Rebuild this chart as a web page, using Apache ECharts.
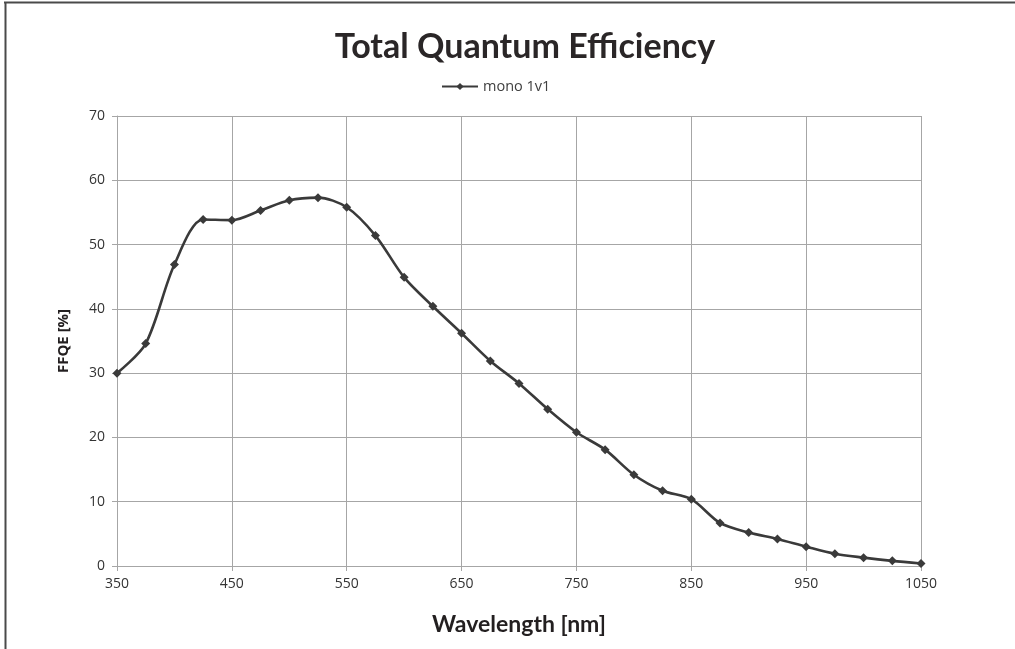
<!DOCTYPE html>
<html>
<head>
<meta charset="utf-8">
<script src="https://cdn.jsdelivr.net/npm/echarts@6/dist/echarts.min.js"></script>
<style>
html,body{margin:0;padding:0;background:#fff;}
#chart{width:1015px;height:649px;}
</style>
</head>
<body>
<div id="chart"></div>
<script>
const wavelengths = [350,375,400,425,450,475,500,525,550,575,600,625,650,675,700,725,750,775,800,825,850,875,900,925,950,975,1000,1025,1050];
const ffqe = [30.0,34.6,46.9,53.9,53.8,55.3,56.9,57.3,55.8,51.4,44.9,40.4,36.2,31.9,28.4,24.4,20.8,18.1,14.2,11.7,10.4,6.7,5.2,4.2,3.0,1.9,1.3,0.8,0.4];
const seriesName = 'mono 1v1';

const chart = echarts.init(document.getElementById('chart'));
const gridColor = '#a6a6a6';
chart.setOption({
  backgroundColor: '#ffffff',
  animation: false,
  title: {
    text: 'Total Quantum Efficiency',
    left: 520, top: 25, textAlign: 'center',
    textStyle: {fontFamily: 'Lato', fontSize: 34, fontWeight: 'bold', color: '#2a2627'}
  },
  legend: {
    data: [seriesName],
    left: 436, top: 74,
    itemWidth: 36, itemHeight: 9, itemGap: 3,
    textStyle: {fontFamily: 'Open Sans', fontSize: 14.5, color: '#404040'}
  },
  graphic: [
    {type: 'line', shape: {x1: 4, y1: 2.5, x2: 1015, y2: 2.5}, style: {stroke: '#4a4a4a', lineWidth: 2}},
    {type: 'line', shape: {x1: 5.5, y1: 2, x2: 5.5, y2: 649}, style: {stroke: '#4a4a4a', lineWidth: 2}}
  ],
  grid: {left: 117, right: 94, top: 116, bottom: 83, containLabel: false},
  xAxis: {
    type: 'value', min: 350, max: 1050, interval: 100,
    name: 'Wavelength [nm]', nameLocation: 'middle', nameGap: 47,
    nameTextStyle: {fontFamily: 'Lato', fontSize: 23, fontWeight: 'bold', color: '#231f20'},
    axisLine: {lineStyle: {color: gridColor, width: 1}},
    axisTick: {show: true, length: 5, lineStyle: {color: gridColor}},
    axisLabel: {fontFamily: 'Open Sans', fontSize: 14, color: '#333333', margin: 11, formatter: v => String(v)},
    splitLine: {show: true, lineStyle: {color: gridColor, width: 1}}
  },
  yAxis: {
    type: 'value', min: 0, max: 70, interval: 10,
    name: 'FFQE [%]', nameLocation: 'middle', nameGap: 46, nameRotate: 90,
    nameTextStyle: {fontFamily: 'Open Sans', fontSize: 15, fontWeight: 'bold', color: '#231f20'},
    axisLine: {show: true, lineStyle: {color: gridColor, width: 1}},
    axisTick: {show: true, length: 5, lineStyle: {color: gridColor}},
    axisLabel: {fontFamily: 'Open Sans', fontSize: 14, color: '#333333', margin: 12},
    splitLine: {show: true, lineStyle: {color: gridColor, width: 1}}
  },
  series: [{
    name: seriesName,
    type: 'line',
    data: wavelengths.map((w, i) => [w, ffqe[i]]),
    smooth: 0.3,
    symbol: 'diamond', symbolSize: 9,
    lineStyle: {color: '#3a3a3a', width: 2.6},
    itemStyle: {color: '#3a3a3a'}
  }]
});
</script>
</body>
</html>
